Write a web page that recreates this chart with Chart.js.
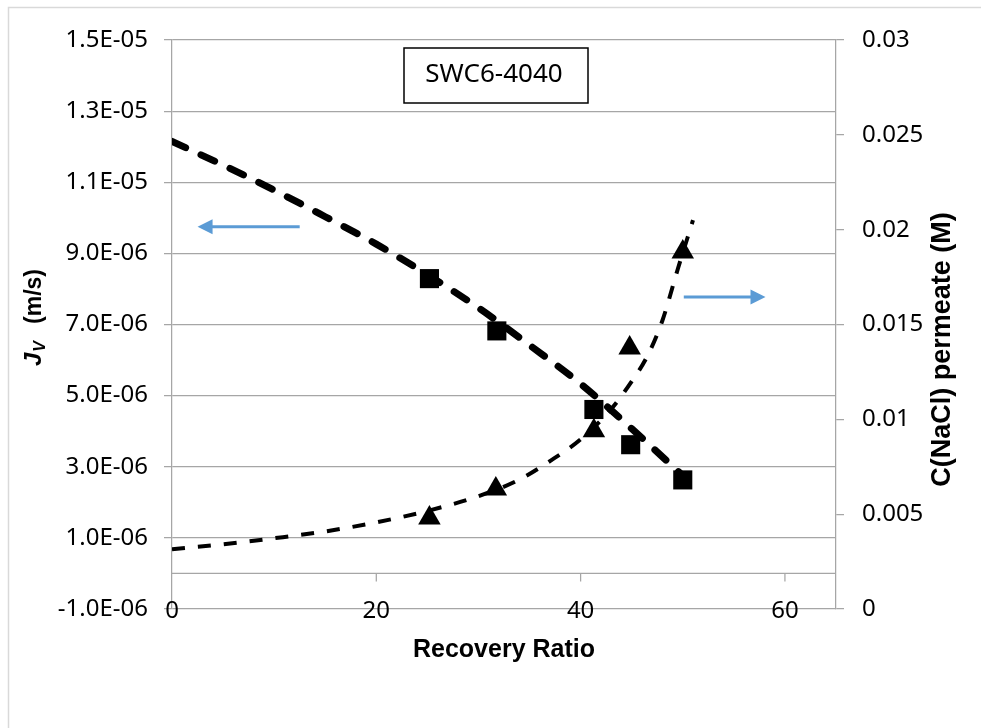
<!DOCTYPE html>
<html>
<head>
<meta charset="utf-8">
<script src="https://cdn.jsdelivr.net/npm/chart.js@4.4.1/dist/chart.umd.min.js"></script>
<style>
    body { margin: 0; background: #fff; }
    #wrap { width: 981px; height: 728px; }
</style>
</head>
<body>
<div id="wrap"><canvas id="chart" width="981" height="728"></canvas></div>
<script>
let ratio_jv = [25.2, 31.8, 41.3, 44.9, 50.0]
let jv_vals = [8.29e-6, 6.82e-6, 4.61e-6, 3.62e-6, 2.63e-6]

let ratio_c = [25.2, 31.7, 41.3, 44.8, 50.0]
let c_vals = [0.0048, 0.00633, 0.0094, 0.01376, 0.01882]

// dashed trend curves
let jv_fit_x = [0, 5, 10, 15, 20, 25, 30, 35, 40, 45, 50]
let jv_fit_y = [12.15e-6, 11.48e-6, 10.78e-6, 10.03e-6, 9.26e-6, 8.40e-6, 7.47e-6, 6.42e-6, 5.33e-6, 4.07e-6, 2.75e-6]

let c_fit_x = [0, 5, 10, 15, 20, 25, 30, 34, 37, 40, 43, 45, 46.5, 48, 49.5, 51]
let c_fit_y = [0.00315, 0.00341, 0.00373, 0.00409, 0.00457, 0.00517, 0.00595, 0.00682, 0.0078, 0.00895, 0.01055, 0.012, 0.0133, 0.0152, 0.0179, 0.0205]

// axes
let x_ticks = [0, 20, 40, 60]
let jv_ticks = [-1e-6, 1e-6, 3e-6, 5e-6, 7e-6, 9e-6, 11e-6, 13e-6, 15e-6]
let c_ticks = [0, 0.005, 0.01, 0.015, 0.02, 0.025, 0.03]

// arrows telling which axis belongs to which curve
let arrow_jv_x = [12.5, 2.5]
let arrow_jv_y = 9.75e-6
let arrow_c_x = [50.1, 58.1]
let arrow_c_y = 0.01645

let label_box = "SWC6-4040"

const GRID = "#a6a6a6"
const BLUE = "#5b9bd5"
const TICK_FONT = { family: "'Noto Sans'", size: 24 }

function toPoints(xs, ys) {
    return xs.map((x, i) => ({ x: x, y: ys[i] }))
}

function sciLabel(v) {
    let parts = v.toExponential(1).toUpperCase().split("E")
    let e = parseInt(parts[1])
    return parts[0] + "E" + (e < 0 ? "-" : "+") + String(Math.abs(e)).padStart(2, "0")
}

function drawArrow(ctx, x0, x1, y) {
    let dir = x1 > x0 ? 1 : -1
    let head = 15
    ctx.save()
    ctx.strokeStyle = BLUE
    ctx.fillStyle = BLUE
    ctx.lineWidth = 3
    ctx.beginPath()
    ctx.moveTo(x0, y)
    ctx.lineTo(x1 - dir * head * 0.8, y)
    ctx.stroke()
    ctx.beginPath()
    ctx.moveTo(x1, y)
    ctx.lineTo(x1 - dir * head, y - 7.5)
    ctx.lineTo(x1 - dir * head, y + 7.5)
    ctx.closePath()
    ctx.fill()
    ctx.restore()
}

const extras = {
    id: "extras",
    beforeDraw(chart) {
        let ctx = chart.ctx
        ctx.save()
        ctx.fillStyle = "#fff"
        ctx.fillRect(0, 0, chart.width, chart.height)
        ctx.strokeStyle = "#d9d9d9"
        ctx.lineWidth = 1.5
        ctx.strokeRect(8.5, 7.5, chart.width + 20, chart.height + 20)
        ctx.restore()
    },
    beforeDatasetsDraw(chart) {
        // horizontal axis line sits at Jv = 0, with its tick marks
        let ctx = chart.ctx
        let area = chart.chartArea
        let xs = chart.scales.x
        let y0 = chart.scales.y.getPixelForValue(0)
        ctx.save()
        ctx.strokeStyle = GRID
        ctx.lineWidth = 1.25
        ctx.beginPath()
        ctx.moveTo(area.left, y0)
        ctx.lineTo(area.right, y0)
        x_ticks.forEach(v => {
            if (v === 0) return
            let px = xs.getPixelForValue(v)
            ctx.moveTo(px, y0)
            ctx.lineTo(px, y0 + 8)
        })
        ctx.stroke()
        ctx.restore()
    },
    afterDraw(chart) {
        let ctx = chart.ctx
        let area = chart.chartArea
        let xs = chart.scales.x
        let ys = chart.scales.y
        let ys2 = chart.scales.y2

        // x tick labels sit right on the bottom grid line
        ctx.save()
        ctx.fillStyle = "#000"
        ctx.font = "24px 'Noto Sans'"
        ctx.textAlign = "center"
        ctx.textBaseline = "alphabetic"
        x_ticks.forEach(v => {
            ctx.fillText(String(v), xs.getPixelForValue(v), area.bottom + 9)
        })
        ctx.restore()

        drawArrow(ctx, xs.getPixelForValue(arrow_jv_x[0]), xs.getPixelForValue(arrow_jv_x[1]), ys.getPixelForValue(arrow_jv_y))
        drawArrow(ctx, xs.getPixelForValue(arrow_c_x[0]), xs.getPixelForValue(arrow_c_x[1]), ys2.getPixelForValue(arrow_c_y))

        // membrane label box
        ctx.save()
        ctx.fillStyle = "#fff"
        ctx.fillRect(404, 48, 184, 55)
        ctx.strokeStyle = "#000"
        ctx.lineWidth = 1.5
        ctx.strokeRect(404, 48, 184, 55)
        ctx.fillStyle = "#000"
        ctx.font = "26px 'Noto Sans'"
        ctx.textAlign = "center"
        ctx.textBaseline = "middle"
        ctx.fillText(label_box, 494, 75)
        ctx.restore()

        // x title
        ctx.save()
        ctx.fillStyle = "#000"
        ctx.font = "bold 25px 'Liberation Sans'"
        ctx.textAlign = "center"
        ctx.textBaseline = "alphabetic"
        ctx.fillText("Recovery Ratio", (area.left + area.right) / 2, area.bottom + 48)
        ctx.restore()

        // left title: J_V (m/s)
        ctx.save()
        ctx.fillStyle = "#000"
        ctx.translate(41, 366)
        ctx.rotate(-Math.PI / 2)
        ctx.textBaseline = "alphabetic"
        ctx.textAlign = "left"
        ctx.font = "italic bold 24px 'Liberation Sans'"
        ctx.fillText("J", 0, 0)
        let wJ = ctx.measureText("J").width
        ctx.font = "italic bold 16px 'Liberation Sans'"
        ctx.fillText("V", wJ + 1, 4)
        let wV = ctx.measureText("V").width
        ctx.font = "bold 23px 'Liberation Sans'"
        ctx.fillText("(m/s)", wJ + wV + 18, 0)
        ctx.restore()

        // right title
        ctx.save()
        ctx.fillStyle = "#000"
        ctx.translate(950, area.top + (area.bottom - area.top) / 2 + 25)
        ctx.rotate(-Math.PI / 2)
        ctx.font = "bold 27px 'Liberation Sans'"
        ctx.textAlign = "center"
        ctx.textBaseline = "alphabetic"
        ctx.fillText("C(NaCl) permeate (M)", 0, 0)
        ctx.restore()
    }
}

let ctx = document.getElementById("chart").getContext("2d")

new Chart(ctx, {
    type: "scatter",
    data: {
        datasets: [
            {
                label: "Jv",
                data: toPoints(ratio_jv, jv_vals),
                yAxisID: "y",
                pointStyle: "rect",
                pointRadius: 13.5,
                backgroundColor: "#000",
                borderColor: "#000",
                borderWidth: 0
            },
            {
                label: "C permeate",
                data: toPoints(ratio_c, c_vals),
                yAxisID: "y2",
                pointStyle: "triangle",
                pointRadius: 13,
                backgroundColor: "#000",
                borderColor: "#000",
                borderWidth: 0
            },
            {
                label: "Jv fit",
                data: toPoints(jv_fit_x, jv_fit_y),
                yAxisID: "y",
                showLine: true,
                pointRadius: 0,
                borderColor: "#000",
                borderWidth: 7,
                borderDash: [15, 17],
                borderCapStyle: "round",
                cubicInterpolationMode: "monotone"
            },
            {
                label: "C fit",
                data: toPoints(c_fit_x, c_fit_y),
                yAxisID: "y2",
                showLine: true,
                pointRadius: 0,
                borderColor: "#000",
                borderWidth: 4,
                borderDash: [13, 13],
                borderCapStyle: "butt",
                cubicInterpolationMode: "monotone"
            }
        ]
    },
    options: {
        responsive: false,
        animation: false,
        layout: { padding: { top: 40, left: 0, right: 0, bottom: 0 } },
        plugins: {
            legend: { display: false },
            tooltip: { enabled: false }
        },
        scales: {
            x: {
                type: "linear",
                min: 0,
                max: 65,
                afterBuildTicks: axis => { axis.ticks = x_ticks.map(v => ({ value: v })) },
                afterFit: axis => { axis.height = 119 },
                grid: { display: false, drawTicks: false },
                border: { display: false },
                ticks: { display: false }
            },
            y: {
                position: "left",
                min: -1e-6,
                max: 15e-6,
                afterBuildTicks: axis => { axis.ticks = jv_ticks.map(v => ({ value: v })) },
                afterFit: axis => { axis.width = 172 },
                grid: { color: GRID, lineWidth: 1.25, tickLength: 8, tickColor: GRID },
                border: { color: GRID, width: 1.25 },
                ticks: {
                    font: TICK_FONT,
                    color: "#000",
                    padding: 16,
                    callback: v => sciLabel(v)
                }
            },
            y2: {
                position: "right",
                min: 0,
                max: 0.03,
                afterBuildTicks: axis => { axis.ticks = c_ticks.map(v => ({ value: v })) },
                afterFit: axis => { axis.width = 145 },
                grid: { drawOnChartArea: false, color: GRID, lineWidth: 1.25, tickLength: 8, tickColor: GRID },
                border: { color: GRID, width: 1.25 },
                ticks: {
                    font: TICK_FONT,
                    color: "#000",
                    padding: 18,
                    callback: v => String(+v.toFixed(3))
                }
            }
        }
    },
    plugins: [extras]
})
</script>
</body>
</html>
